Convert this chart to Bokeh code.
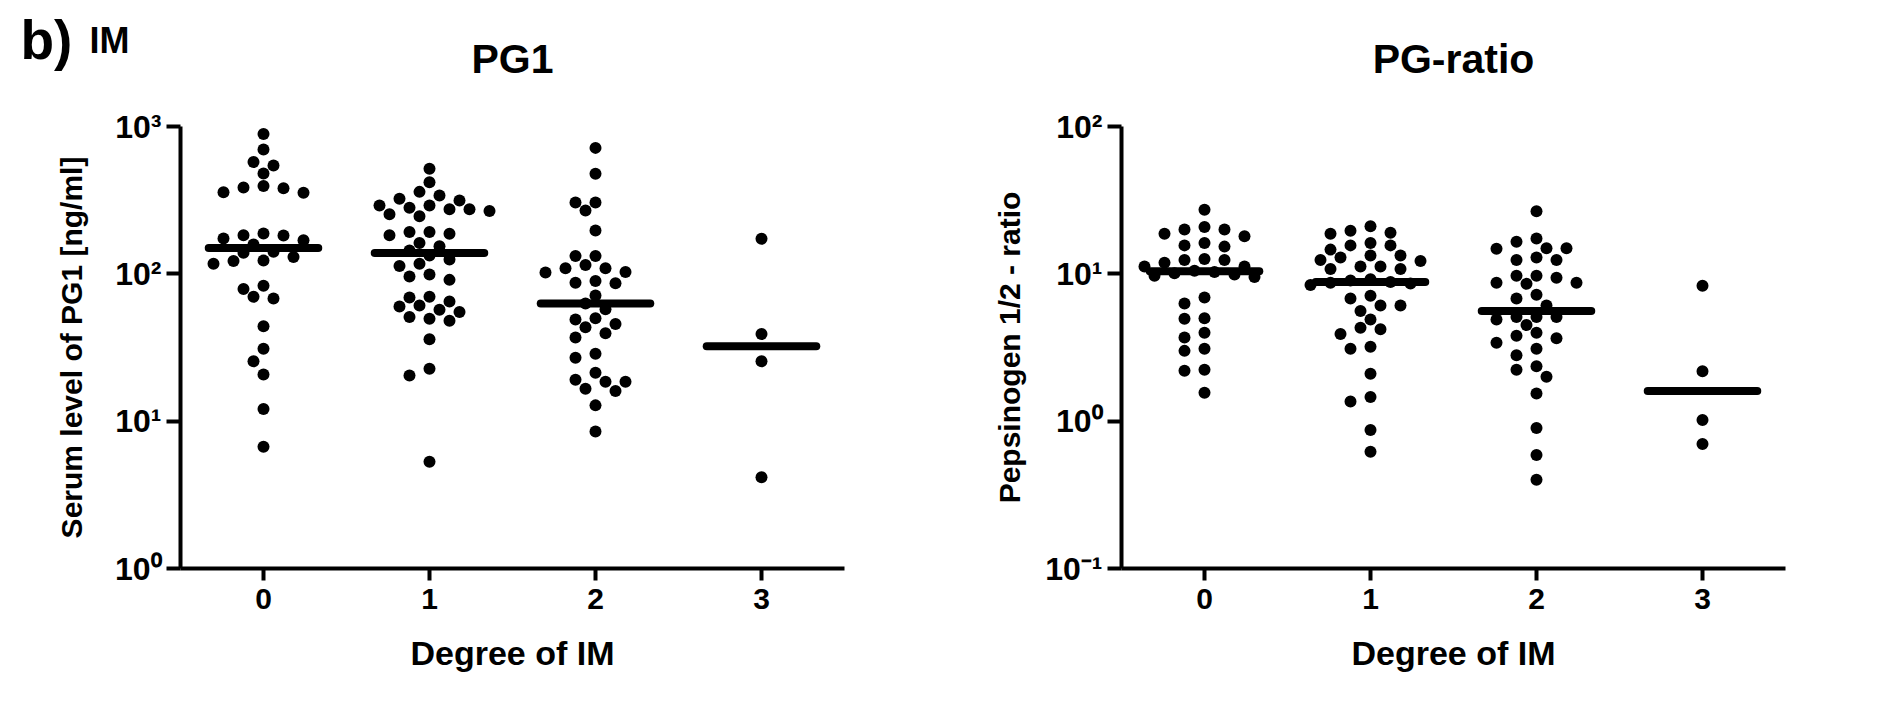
import numpy as np
from bokeh.plotting import figure
from bokeh.models import Range1d, FixedTicker, Label
from bokeh.layouts import row, column
from bokeh.embed import file_html
from bokeh.resources import INLINE

# ---------------- data ----------------
groups = [0, 1, 2, 3]
group_labels = ["0", "1", "2", "3"]

pg1_0 = [891, 698, 575, 544, 480, 394, 381, 355, 358, 385, 183, 174, 169, 182, 188,
         158, 139, 141, 123, 117, 122, 130, 83, 70, 68, 79, 44, 31, 25.5, 20.7, 12.1, 6.7]
pg1_1 = [517, 419, 360, 340, 315, 323, 291, 291, 274, 267, 274, 281, 246, 254, 183, 192,
         187, 192, 162, 154, 133, 144, 117, 125, 113, 99, 91, 96, 69, 65, 70, 57, 61, 51,
         49.5, 55, 48, 60, 36, 22.7, 20.4, 5.3]
pg1_2 = [716, 477, 305, 305, 269, 197, 132, 132, 115, 103, 109, 109, 102, 89.5, 86.4, 86.9,
         71.3, 63, 57.5, 49, 50, 43.4, 45.6, 39.5, 37, 28.7, 26.9, 21.3, 19.1, 18.5, 18.5,
         16, 16.6, 12.8, 8.5]
pg1_3 = [173, 39, 25.5, 4.17]

ratio_0 = [27.2, 18.7, 20, 20, 20.8, 18, 16.2, 15.3, 15.6, 12.4, 12.6, 11.9, 12.4, 11.2,
           11.2, 10.5, 10.3, 10.1, 9.5, 9.9, 9.7, 6.9, 6.3, 5.0, 4.96, 3.7, 3.98, 3.0, 3.1,
           2.23, 2.2, 1.56]
ratio_1 = [21, 19, 18.7, 19.6, 16.2, 15.6, 14.6, 15.6, 13.3, 12.9, 12.2, 12.4, 13.3, 10.8,
           11.2, 11.2, 10.8, 9.2, 9.0, 8.8, 8.7, 8.6, 8.4, 7.1, 6.8, 6.1, 6.1, 5.6, 4.9, 4.3,
           4.2, 3.9, 3.1, 3.2, 2.1, 1.36, 1.46, 0.87, 0.62]
ratio_2 = [26.6, 14.9, 14.9, 17.4, 16.5, 14.8, 12.4, 12.4, 12.9, 9.7, 8.7, 8.7, 8.55, 9.7,
           9.4, 7.2, 6.8, 6.1, 5.1, 5.1, 4.9, 5.1, 4.5, 3.66, 3.98, 3.8, 3.1, 3.4, 2.8, 2.23,
           2.36, 2.0, 1.54, 0.9, 0.59, 0.40]
ratio_3 = [8.3, 2.18, 1.02, 0.70]

pg1_ticks = [1, 10, 100, 1000]
pg1_tick_labels = ["10⁰", "10¹", "10²", "10³"]
ratio_ticks = [0.1, 1, 10, 100]
ratio_tick_labels = ["10⁻¹", "10⁰", "10¹", "10²"]

panel_letter = "b)"
panel_name = "IM"
titles = ["PG1", "PG-ratio"]
y_labels = ["Serum level of PG1 [ng/ml]", "Pepsinogen 1/2 - ratio"]
x_label = "Degree of IM"

# ---------------- layout / style ----------------
FONT = "Liberation Sans"
FRAME_W, FRAME_H = 664, 442
STRIP_H = 105                # header strip holding the panel tag and the titles
H = 600                      # height of each chart figure
TOP = 21
BOTTOM = H - TOP - FRAME_H
LEFTS = [180, 241]
RIGHTS = [36, 80]
DOT = 12
MED_HALF = 0.33
UNIT_PX = FRAME_W / 4.0
TAG_BASE = 66                # baseline of "b) IM" above the strip bottom
TITLE_BASE = 47              # baseline of the chart titles above the strip bottom


def swarm_offsets(vals, n_dec):
    """Beeswarm: shift points sideways (in 10 px steps) so dots do not overlap."""
    px_dec = FRAME_H / n_dec
    ys = np.log10(np.asarray(vals, dtype=float)) * px_dec
    order = np.argsort(-ys, kind="stable")
    cands = [0]
    for k in range(1, 15):
        cands += [-k, k]
    placed = []
    offs = np.zeros(len(ys))
    for i in order:
        for k in cands:
            x = k * 10.0
            if all((x - px) ** 2 + (ys[i] - py) ** 2 >= 12.5 ** 2 for px, py in placed):
                break
        placed.append((x, ys[i]))
        offs[i] = x / UNIT_PX
    return offs


def make_panel(series, ticks, tick_labels, ylab, yr, left, right, lab_standoff):
    n_dec = int(round(np.log10(yr[1] / yr[0])))
    p = figure(width=left + FRAME_W + right, height=H,
               x_range=Range1d(-0.5, 3.5), y_range=Range1d(*yr), y_axis_type="log",
               output_backend="svg", toolbar_location=None, title_location=None,
               min_border_left=left, min_border_right=right,
               min_border_top=TOP, min_border_bottom=BOTTOM)
    p.outline_line_color = None
    p.xgrid.visible = False
    p.ygrid.visible = False

    for ax in (p.xaxis[0], p.yaxis[0]):
        ax.axis_line_width = 4
        ax.axis_line_color = "black"
        ax.major_tick_line_width = 4
        ax.major_tick_line_color = "black"
        ax.major_tick_in = 0
        ax.minor_tick_in = 0
        ax.minor_tick_out = 0
        ax.major_label_text_font = FONT
        ax.major_label_text_font_style = "bold"
        ax.major_label_text_color = "black"
        ax.axis_label_text_font = FONT
        ax.axis_label_text_font_style = "bold"
        ax.axis_label_text_color = "black"

    p.xaxis.ticker = FixedTicker(ticks=groups, minor_ticks=[])
    p.xaxis.major_label_overrides = {g: l for g, l in zip(groups, group_labels)}
    p.xaxis.major_tick_out = 12
    p.xaxis.major_label_standoff = 8
    p.xaxis.major_label_text_font_size = "30px"
    p.xaxis.axis_label = x_label
    p.xaxis.axis_label_text_font_size = "34px"
    p.xaxis.axis_label_standoff = 22

    p.yaxis.ticker = FixedTicker(ticks=ticks, minor_ticks=[])
    p.yaxis.major_label_overrides = {t: l for t, l in zip(ticks, tick_labels)}
    p.yaxis.major_tick_out = 14
    p.yaxis.major_label_standoff = 5
    p.yaxis.major_label_text_font_size = "32px"
    p.yaxis.axis_label = ylab
    p.yaxis.axis_label_text_font_size = "30px"
    p.yaxis.axis_label_standoff = lab_standoff

    for g, vals in zip(groups, series):
        offs = swarm_offsets(vals, n_dec)
        p.scatter(x=g + offs, y=vals, size=DOT, marker="circle",
                  fill_color="black", line_color="black", line_width=0)
        med = float(np.median(vals))
        p.segment(x0=[g - MED_HALF], x1=[g + MED_HALF], y0=[med], y1=[med],
                  line_width=8, line_color="black", line_cap="round")
    return p


p1 = make_panel([pg1_0, pg1_1, pg1_2, pg1_3], pg1_ticks, pg1_tick_labels,
                y_labels[0], (1, 1000), LEFTS[0], RIGHTS[0], 24)
p2 = make_panel([ratio_0, ratio_1, ratio_2, ratio_3], ratio_ticks, ratio_tick_labels,
                y_labels[1], (0.1, 100), LEFTS[1], RIGHTS[1], 16)

# ---------------- header strip: panel tag + chart titles ----------------
total_w = p1.width + p2.width
head = figure(width=total_w, height=STRIP_H, x_range=Range1d(0, total_w),
              y_range=Range1d(0, STRIP_H), output_backend="svg", toolbar_location=None,
              title_location=None, min_border=0, x_axis_location=None,
              y_axis_location=None)
head.outline_line_color = None
head.xgrid.visible = False
head.ygrid.visible = False

centers = [LEFTS[0] + FRAME_W / 2, p1.width + LEFTS[1] + FRAME_W / 2]
for cx, t in zip(centers, titles):
    head.add_layout(Label(x=cx, y=TITLE_BASE, text=t, text_font=FONT,
                          text_font_size="41px", text_font_style="bold",
                          text_color="black", text_align="center",
                          text_baseline="alphabetic"))
head.add_layout(Label(x=20, y=TAG_BASE, text=panel_letter, text_font=FONT,
                      text_font_size="55px", text_font_style="bold", text_color="black",
                      text_align="left", text_baseline="alphabetic"))
head.add_layout(Label(x=89, y=TAG_BASE - 1, text=panel_name, text_font=FONT,
                      text_font_size="36px", text_font_style="bold", text_color="black",
                      text_align="left", text_baseline="alphabetic"))

layout = column(head, row(p1, p2))
open("out.html", "w").write(file_html(layout, INLINE))
